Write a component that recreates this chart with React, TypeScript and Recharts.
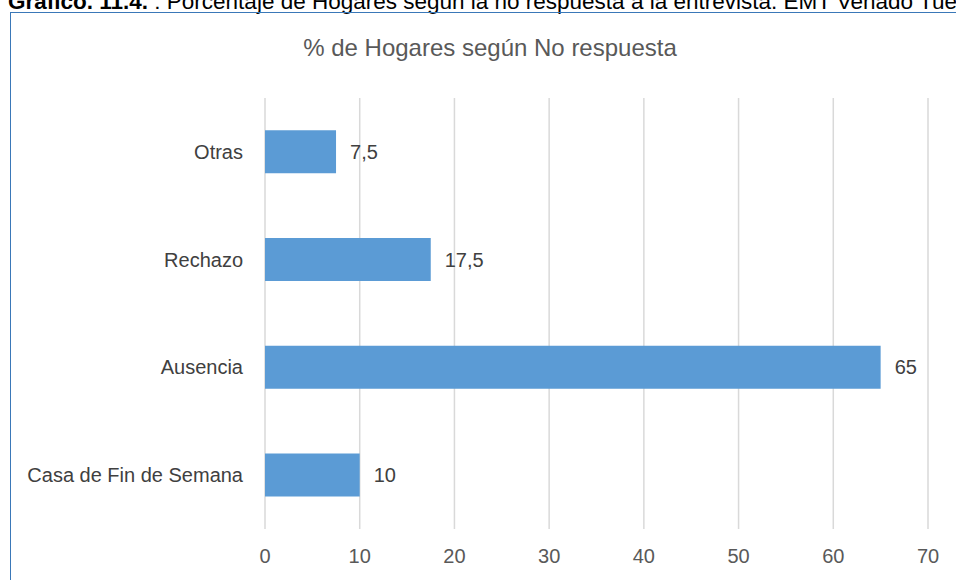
import React from "react";
import { BarChart, Bar, XAxis, YAxis, CartesianGrid, LabelList } from "recharts";

const categories = ["Otras", "Rechazo", "Ausencia", "Casa de Fin de Semana"];
const values = [7.5, 17.5, 65, 10];
const xTicks = [0, 10, 20, 30, 40, 50, 60, 70];
const chartTitle = "% de Hogares según No respuesta";
const captionBold = "Gráfico. 11.4.";
const captionRest = " : Porcentaje de Hogares según la no respuesta a la entrevista. EMT Venado Tuerto";

const data = categories.map((c, i) => ({ name: c, value: values[i] }));

const FONT = '"Liberation Sans Narrow", "Arial Narrow", "Liberation Sans", Arial, sans-serif';

export default function App() {
  return (
    <div style={{ position: "absolute", left: 0, top: 0, width: 956, height: 580, overflow: "hidden", background: "#fff", fontFamily: FONT }}>
      <div style={{ position: "absolute", left: 8, top: -8, fontSize: 22.5, lineHeight: "20px", whiteSpace: "nowrap", color: "#000" }}>
        <b>{captionBold}</b>{captionRest}
      </div>
      <div style={{ position: "absolute", left: 10, top: 12, width: 960, height: 600, border: "1.5px solid #3A78B8", boxSizing: "border-box" }} />
      <div style={{ position: "absolute", left: 0, top: 34, width: 980, textAlign: "center", fontSize: 24, color: "#595959" }}>
        {chartTitle}
      </div>
      <div style={{ position: "absolute", left: 0, top: 0 }}>
        <BarChart width={956} height={580} data={data} layout="vertical" margin={{ top: 98, right: 28, bottom: 21, left: 0 }} barCategoryGap="30%">
          <CartesianGrid horizontal={false} stroke="#D9D9D9" strokeWidth={1.5} />
          <XAxis type="number" domain={[0, 70]} ticks={xTicks} axisLine={false} tickLine={false} tickMargin={14} tick={{ fontSize: 20, fill: "#595959", fontFamily: FONT }} />
          <YAxis type="category" dataKey="name" width={265} axisLine={false} tickLine={false} tickMargin={16} tick={{ fontSize: 20, fill: "#404040", fontFamily: FONT }} />
          <Bar dataKey="value" fill="#5B9BD5" isAnimationActive={false}>
            <LabelList dataKey="value" position="right" offset={14} formatter={(v: any) => String(v).replace(".", ",")} style={{ fontSize: 20, fill: "#404040", fontFamily: FONT }} />
          </Bar>
        </BarChart>
      </div>
    </div>
  );
}
